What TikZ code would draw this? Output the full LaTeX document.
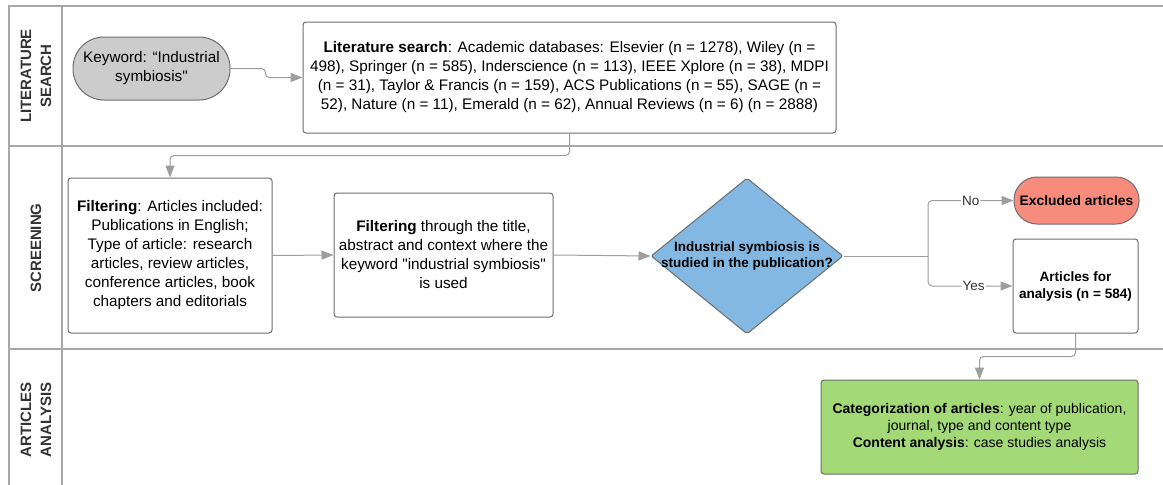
\documentclass[tikz,border=0pt]{standalone}
\usepackage{fontspec}
\setmainfont{Liberation Sans}[Ligatures=TeXOff]
\usetikzlibrary{shapes.geometric,arrows.meta}
\definecolor{lanegray}{HTML}{A8A8A8}
\definecolor{boxborder}{HTML}{6E6E6E}
\definecolor{conncol}{HTML}{9E9E9E}
\definecolor{kwfill}{HTML}{CCCCCC}
\definecolor{bluefill}{HTML}{83B8E2}
\definecolor{redfill}{HTML}{F78C7C}
\definecolor{greenfill}{HTML}{A3D977}
\definecolor{headtext}{HTML}{333333}
\tikzset{
  lane/.style={draw=lanegray, line width=1.5pt},
  box/.style={draw=boxborder, line width=1pt, rounded corners=3pt, fill=white,
    align=center, inner sep=0pt, text=black},
  bodyfont/.style={font=\fontsize{15.3}{19}\selectfont},
  smallfont/.style={font=\bfseries\fontsize{13.6}{17}\selectfont},
  greenfont/.style={font=\fontsize{14}{17}\selectfont},
  conn/.style={draw=conncol, line width=1pt, rounded corners=4pt,
    -{Triangle[length=12pt,width=9pt]}},
  plainconn/.style={draw=conncol, line width=1pt},
  branchlabel/.style={fill=white, inner sep=1pt, text=headtext,
    font=\fontsize{13.5}{16}\selectfont},
  lanelabel/.style={rotate=90, align=center, text=headtext,
    font=\bfseries\fontsize{15}{20}\selectfont}
}
\begin{document}
\begin{tikzpicture}[x=1pt,y=-1pt]
\useasboundingbox (0,0) rectangle (1163,485);
\fill[white] (0,0) rectangle (1163,485);

% swimlanes
\draw[lane] (9,485) -- (9,6) -- (1163,6);
\draw[lane] (62,6) -- (62,485);
\draw[lane] (9,146) -- (1163,146);
\draw[lane] (9,349) -- (1163,349);

\node[lanelabel] (l1) at (36,76) {LITERATURE\\SEARCH};
\node[lanelabel] (l2) at (36,248) {SCREENING};
\node[lanelabel] (l3) at (36,420) {ARTICLES\\ANALYSIS};

% nodes
\node[box, bodyfont, fill=kwfill, rounded corners=31pt,
  minimum width=157pt, minimum height=63pt] (kw) at (151.5,68.5)
  {Keyword: “Industrial\\symbiosis"};

\node[box, bodyfont, minimum width=533pt, minimum height=111pt] (lit) at (569.5,77.5)
  {\textbf{Literature search}: Academic databases: Elsevier (n = 1278), Wiley (n =\\
   498), Springer (n = 585), Inderscience (n = 113), IEEE Xplore (n = 38), MDPI\\
   (n = 31), Taylor \& Francis (n = 159), ACS Publications (n = 55), SAGE (n =\\
   52), Nature (n = 11), Emerald (n = 62), Annual Reviews (n = 6) (n = 2888)};

\node[box, bodyfont, minimum width=204pt, minimum height=155pt] (f1) at (170,255.5)
  {\textbf{Filtering}: Articles included:\\Publications in English;\\
   Type of article: research\\articles, review articles,\\
   conference articles, book\\chapters and editorials};

\node[box, bodyfont, minimum width=219pt, minimum height=124pt] (f2) at (443.5,255)
  {\textbf{Filtering} through the title,\\abstract and context where the\\
   keyword "industrial symbiosis"\\is used};

\node[draw=boxborder, line width=1pt, fill=bluefill, diamond, inner sep=0pt,
  rounded corners=2pt, minimum width=192pt, minimum height=156pt] (dia) at (747,256) {};
\node[align=center, inner sep=0pt, font=\bfseries\fontsize{13.5}{16}\selectfont]
  (diatext) at (dia.center) {Industrial symbiosis is\\studied in the publication?};

\node[box, fill=redfill, rounded corners=23pt, minimum width=125pt, minimum height=47pt,
  font=\bfseries\fontsize{13.8}{16}\selectfont] (exc) at (1076.5,200.5) {Excluded articles};

\node[box, smallfont, minimum width=125pt, minimum height=94pt] (art) at (1075.5,286)
  {Articles for\\analysis (n = 584)};

\node[box, greenfont, fill=greenfill, minimum width=317pt, minimum height=94pt] (res) at (979.5,427)
  {\textbf{Categorization of articles}: year of publication,\\
   journal, type and content type\\
   \textbf{Content analysis}: case studies analysis};

% connectors
\draw[conn] (kw.east) -- ++(35,0) |- (lit.west);
\draw[conn] (lit.south) -- ++(0,22) -| (f1.north);
\draw[conn] (f1.east) -- (f2.west);
\draw[conn] (f2.east) -- (dia.west);
\coordinate (br) at (928,256);
\draw[plainconn] (dia.east) -- (br);
\draw[conn] (br) |- node[branchlabel, pos=0.75] {No} (exc.west);
\draw[conn] (br) |- node[branchlabel, pos=0.77] {Yes} (art.west);
\draw[conn] (art.south) -- ++(0,23) -| (res.north);
\end{tikzpicture}
\end{document}
